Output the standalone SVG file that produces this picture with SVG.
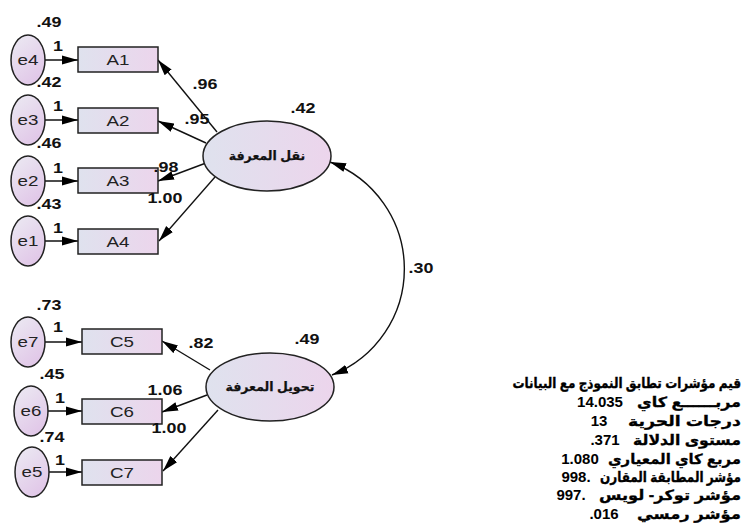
<svg xmlns="http://www.w3.org/2000/svg" width="745" height="525" viewBox="0 0 745 525">
<defs>
<linearGradient id="gr" x1="0" y1="0" x2="1" y2="0"><stop offset="0" stop-color="#dfe2ee"/><stop offset="1" stop-color="#ecd5ec"/></linearGradient>
<linearGradient id="ge" x1="0.2" y1="0" x2="0.8" y2="1"><stop offset="0" stop-color="#ebe8f2"/><stop offset="1" stop-color="#e0c4e7"/></linearGradient>
<marker id="ah" markerUnits="userSpaceOnUse" markerWidth="17" markerHeight="10" refX="16" refY="5" orient="auto-start-reverse"><path d="M0,0.5 L16,5 L0,9.5 z" fill="#000"/></marker>
</defs>
<style>
.box{fill:url(#gr);stroke:#222;stroke-width:1.5}
.err{fill:url(#ge);stroke:#222;stroke-width:1.5}
.lat{fill:url(#gr);stroke:#222;stroke-width:1.5}
.c{stroke:#111;stroke-width:1.4;fill:none;marker-end:url(#ah)}
.n{font-family:"Liberation Sans",Arial,sans-serif;font-weight:bold;font-size:14px;fill:#111;text-anchor:middle}
.t{font-family:"Liberation Sans",Arial,sans-serif;font-size:15px;fill:#222;text-anchor:middle}
.ar{font-family:"Liberation Sans","DejaVu Sans",sans-serif;font-weight:bold;font-size:12.5px;fill:#111;stroke:#111;stroke-width:0.25;text-anchor:middle}
.tb{font-family:"Liberation Sans","DejaVu Sans",sans-serif;font-weight:bold;font-size:14px;fill:#000;stroke:#000;stroke-width:0.3;text-anchor:end}
.tn{font-family:"Liberation Sans",Arial,sans-serif;font-weight:bold;font-size:15px;fill:#000;text-anchor:middle}
</style>
<g id="connectors">
<line class="c" x1="45" y1="60" x2="78" y2="60"/>
<line class="c" x1="45" y1="120" x2="78" y2="120"/>
<line class="c" x1="45" y1="181" x2="78" y2="181"/>
<line class="c" x1="45" y1="241" x2="78" y2="241"/>
<line class="c" x1="45" y1="342" x2="82" y2="342"/>
<line class="c" x1="48" y1="411" x2="82" y2="411"/>
<line class="c" x1="49" y1="472" x2="82" y2="472"/>
<line class="c" x1="217" y1="132" x2="158" y2="60"/>
<line class="c" x1="206" y1="143" x2="158" y2="121"/>
<line class="c" x1="206" y1="163" x2="158" y2="181"/>
<line class="c" x1="215" y1="177" x2="159" y2="241"/>
<line class="c" x1="210" y1="370" x2="162" y2="341"/>
<line class="c" x1="207" y1="395" x2="162" y2="412"/>
<line class="c" x1="218" y1="410" x2="163" y2="471"/>
<path class="c" d="M330,162 A114,114 0 0 1 332,375" style="marker-start:url(#ah)"/>
</g>
<g id="e4"><ellipse class="err" cx="28" cy="60" rx="17" ry="25"/><text class="t" transform="matrix(1.25 0 0 1 28 65)">e4</text></g>
<g id="e3"><ellipse class="err" cx="28" cy="120" rx="17" ry="25"/><text class="t" transform="matrix(1.25 0 0 1 28 125)">e3</text></g>
<g id="e2"><ellipse class="err" cx="28" cy="181" rx="17" ry="25"/><text class="t" transform="matrix(1.25 0 0 1 28 186)">e2</text></g>
<g id="e1"><ellipse class="err" cx="28" cy="241" rx="17" ry="25"/><text class="t" transform="matrix(1.25 0 0 1 28 246)">e1</text></g>
<g id="e7"><ellipse class="err" cx="28" cy="342" rx="17" ry="25"/><text class="t" transform="matrix(1.25 0 0 1 28 347)">e7</text></g>
<g id="e6"><ellipse class="err" cx="31" cy="411" rx="17" ry="25"/><text class="t" transform="matrix(1.25 0 0 1 31 416)">e6</text></g>
<g id="e5"><ellipse class="err" cx="32" cy="472" rx="17" ry="25"/><text class="t" transform="matrix(1.25 0 0 1 32 477)">e5</text></g>
<g id="A1"><rect class="box" x="78" y="47" width="80" height="25"/><text class="t" transform="matrix(1.25 0 0 1 118 65)">A1</text></g>
<g id="A2"><rect class="box" x="78" y="108" width="80" height="25"/><text class="t" transform="matrix(1.25 0 0 1 118 126)">A2</text></g>
<g id="A3"><rect class="box" x="78" y="168" width="80" height="25"/><text class="t" transform="matrix(1.25 0 0 1 118 186)">A3</text></g>
<g id="A4"><rect class="box" x="78" y="229" width="80" height="25"/><text class="t" transform="matrix(1.25 0 0 1 118 247)">A4</text></g>
<g id="C5"><rect class="box" x="82" y="329" width="80" height="25"/><text class="t" transform="matrix(1.25 0 0 1 122 347)">C5</text></g>
<g id="C6"><rect class="box" x="82" y="399" width="80" height="25"/><text class="t" transform="matrix(1.25 0 0 1 122 417)">C6</text></g>
<g id="C7"><rect class="box" x="82" y="460" width="80" height="25"/><text class="t" transform="matrix(1.25 0 0 1 122 478)">C7</text></g>
<g id="F1"><ellipse class="lat" cx="267" cy="156" rx="64" ry="35"/><text class="ar" x="267" y="160">نقل المعرفة</text></g>
<g id="F2"><ellipse class="lat" cx="270" cy="387" rx="64" ry="34"/><text class="ar" x="270" y="391">تحويل المعرفة</text></g>
<g id="labels">
<text class="n" transform="matrix(1.28 0 0 1 49 27)">.49</text>
<text class="n" transform="matrix(1.28 0 0 1 58 51)">1</text>
<text class="n" transform="matrix(1.28 0 0 1 49 87)">.42</text>
<text class="n" transform="matrix(1.28 0 0 1 58 111)">1</text>
<text class="n" transform="matrix(1.28 0 0 1 49 148)">.46</text>
<text class="n" transform="matrix(1.28 0 0 1 58 173)">1</text>
<text class="n" transform="matrix(1.28 0 0 1 49 209)">.43</text>
<text class="n" transform="matrix(1.28 0 0 1 58 233)">1</text>
<text class="n" transform="matrix(1.28 0 0 1 205 89)">.96</text>
<text class="n" transform="matrix(1.28 0 0 1 197 124)">.95</text>
<text class="n" transform="matrix(1.28 0 0 1 166 172)">.98</text>
<text class="n" transform="matrix(1.28 0 0 1 165 203)">1.00</text>
<text class="n" transform="matrix(1.28 0 0 1 303 113)">.42</text>
<text class="n" transform="matrix(1.28 0 0 1 49 310)">.73</text>
<text class="n" transform="matrix(1.28 0 0 1 58 332)">1</text>
<text class="n" transform="matrix(1.28 0 0 1 52 379)">.45</text>
<text class="n" transform="matrix(1.28 0 0 1 60 403)">1</text>
<text class="n" transform="matrix(1.28 0 0 1 52 442)">.74</text>
<text class="n" transform="matrix(1.28 0 0 1 60 465)">1</text>
<text class="n" transform="matrix(1.28 0 0 1 201 348)">.82</text>
<text class="n" transform="matrix(1.28 0 0 1 165 395)">1.06</text>
<text class="n" transform="matrix(1.28 0 0 1 169 433)">1.00</text>
<text class="n" transform="matrix(1.28 0 0 1 307 344)">.49</text>
<text class="n" transform="matrix(1.28 0 0 1 421 273)">.30</text>
</g>
<g id="fit">
<text class="tb" transform="matrix(1 0 0 1.18 741 388)" style="font-size:12px">قيم مؤشرات تطابق النموذج مع البيانات</text>
<text class="tb" x="741" y="407" textLength="104" lengthAdjust="spacingAndGlyphs">مربــــــع كاي</text>
<text class="tn" x="600" y="407">14.035</text>
<text class="tb" x="741" y="426" textLength="113" lengthAdjust="spacingAndGlyphs">درجات الحرية</text>
<text class="tn" x="599" y="426">13</text>
<text class="tb" x="741" y="445" textLength="108" lengthAdjust="spacingAndGlyphs">مستوى الدلالة</text>
<text class="tn" x="605" y="445">.371</text>
<text class="tb" x="741" y="464" textLength="133" lengthAdjust="spacingAndGlyphs">مربع كاي المعياري</text>
<text class="tn" x="580" y="464">1.080</text>
<text class="tb" transform="matrix(1 0 0 1.18 741 482)" style="font-size:12px">مؤشر المطابقة المقارن</text>
<text class="tn" x="576" y="482">998.</text>
<text class="tb" x="741" y="500" textLength="142" lengthAdjust="spacingAndGlyphs">مؤشر توكر- لويس</text>
<text class="tn" x="571" y="500">997.</text>
<text class="tb" x="741" y="519" textLength="104" lengthAdjust="spacingAndGlyphs">مؤشر رمسي</text>
<text class="tn" x="604" y="519">.016</text>
</g>
</svg>
